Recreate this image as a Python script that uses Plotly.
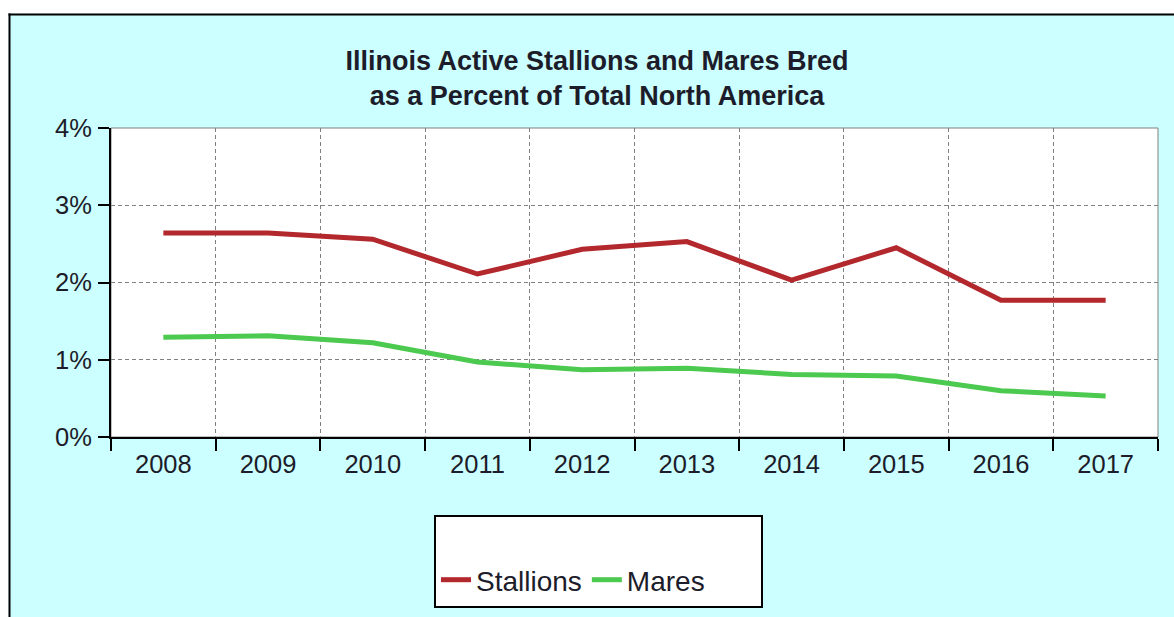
import plotly.graph_objects as go

# Data: Illinois share of North American active stallions and mares bred (percent)
years = ["2008", "2009", "2010", "2011", "2012", "2013", "2014", "2015", "2016", "2017"]
stallions = [2.64, 2.64, 2.56, 2.11, 2.43, 2.53, 2.03, 2.45, 1.77, 1.77]
mares = [1.29, 1.31, 1.22, 0.97, 0.87, 0.89, 0.81, 0.79, 0.60, 0.53]
y_ticks = [0, 1, 2, 3, 4]

# Canvas and plot-area geometry (pixels)
WIDTH, HEIGHT = 1174, 617
LEFT, RIGHT, TOP, BOTTOM = 111, 1158, 128, 437
PW, PH = RIGHT - LEFT, BOTTOM - TOP


def fx(px):
    return (px - LEFT) / PW


def fy(py):
    return (BOTTOM - py) / PH


FONT = "Liberation Sans, Arial, sans-serif"
TEXT = "#1c1c2a"
RED = "#B3282D"
GREEN = "#4CC94F"
BG = "#CCFFFF"

fig = go.Figure()
fig.add_trace(go.Scatter(x=years, y=stallions, name="Stallions", mode="lines",
                         line=dict(color=RED, width=5)))
fig.add_trace(go.Scatter(x=years, y=mares, name="Mares", mode="lines",
                         line=dict(color=GREEN, width=5)))

shapes = [
    # gray frame around plot area (left/bottom covered by axis lines)
    dict(type="rect", xref="paper", yref="paper", x0=0, x1=1, y0=0, y1=1,
         line=dict(color="#808080", width=1), fillcolor="rgba(0,0,0,0)", layer="below"),
    # legend box
    dict(type="rect", xref="paper", yref="paper", x0=fx(435), x1=fx(762), y0=fy(607), y1=fy(516),
         line=dict(color="#000000", width=2), fillcolor="#FFFFFF", layer="below"),
    # white margin outside the chart frame
    dict(type="rect", xref="paper", yref="paper", x0=fx(-5), x1=fx(8.5), y0=fy(640), y1=fy(-5),
         line=dict(width=0), fillcolor="#FFFFFF", layer="above"),
    dict(type="rect", xref="paper", yref="paper", x0=fx(-5), x1=fx(1200), y0=fy(13.5), y1=fy(-5),
         line=dict(width=0), fillcolor="#FFFFFF", layer="above"),
    # black chart frame
    dict(type="line", xref="paper", yref="paper", x0=fx(9.5), x1=fx(9.5), y0=fy(640), y1=fy(13.5),
         line=dict(color="#000000", width=2), layer="above"),
    dict(type="line", xref="paper", yref="paper", x0=fx(8.5), x1=fx(1200), y0=fy(14.5), y1=fy(14.5),
         line=dict(color="#000000", width=2), layer="above"),
]

fig.update_layout(
    width=WIDTH, height=HEIGHT,
    margin=dict(l=LEFT, r=WIDTH - RIGHT, t=TOP, b=HEIGHT - BOTTOM, pad=0),
    paper_bgcolor=BG, plot_bgcolor="#FFFFFF",
    font=dict(family=FONT, size=25.5, color=TEXT),
    title=dict(
        text="<b>Illinois Active Stallions and Mares Bred<br>as a Percent of Total North America</b>",
        font=dict(family=FONT, size=27, color=TEXT),
        xref="container", yref="container",
        x=597 / WIDTH, xanchor="center",
        y=1 - 69.5 / HEIGHT, yanchor="middle",
    ),
    xaxis=dict(
        type="category", range=[-0.5, len(years) - 0.5],
        tickson="boundaries", ticks="outside", ticklen=12, tickwidth=2, tickcolor="#000000",
        showline=True, linecolor="#000000", linewidth=2,
        showgrid=True, gridcolor="#808080", gridwidth=1, griddash="4px,3px",
        tickfont=dict(size=25.5, color=TEXT), ticklabelstandoff=3,
    ),
    yaxis=dict(
        range=[0, 4], tickvals=y_ticks, ticktext=[f"{v}%" for v in y_ticks],
        ticks="outside", ticklen=11, tickwidth=2, tickcolor="#000000",
        showline=True, linecolor="#000000", linewidth=2,
        showgrid=True, gridcolor="#808080", gridwidth=1, griddash="4px,3px",
        zeroline=False,
        tickfont=dict(size=25.5, color=TEXT), ticklabelstandoff=1,
    ),
    legend=dict(
        orientation="h", xref="paper", yref="paper",
        x=fx(436), xanchor="left", y=fy(580), yanchor="middle",
        bgcolor="rgba(0,0,0,0)", borderwidth=0,
        font=dict(family=FONT, size=28, color=TEXT),
        itemwidth=30,
    ),
    shapes=shapes,
    showlegend=True,
)

fig.write_html("out.html")
